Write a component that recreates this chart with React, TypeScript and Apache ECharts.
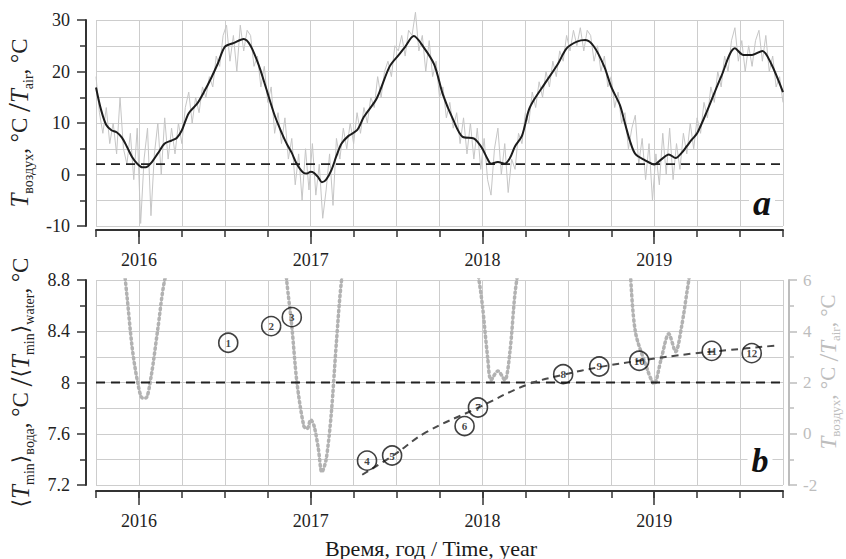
import React, { useEffect, useRef } from "react";
import * as echarts from "echarts";

const FONT = "Liberation Serif";

const X_MIN = 2015.75;
const X_MAX = 2019.75;
const YEAR_TICKS = [2016, 2017, 2018, 2019];

// daily-ish air temperature (sampled every 0.02 year from 2015.75)
const RAW_START = 2015.75;
const RAW_STEP = 0.02;
const AIR_RAW = [
  19, 12, 8, 13, 6, 10, 4, 15, 5, 2, 8, -1, 9,
  -9.5, 3, 9, -8, 4, 10, 0, 11, 3, 9, 4, 10, 6, 13, 16, 10, 15, 12, 17, 15, 19, 17, 23, 21, 27, 29, 22, 27, 20, 29, 24, 28, 27, 21, 23, 17, 21, 14, 17, 8, 12, 6, 11, 3, 7, -2, 4, -5, 5, -3,
  6, -4, 2, -8.5, -3, 4, -6, 7, 3, 9, 5, 10, 6, 12, 8, 13, 10, 15, 13, 19, 15, 20, 22, 19, 25, 24, 27, 23, 28, 27, 31.5, 24, 27, 20, 26, 19, 22, 15, 17, 11, 14, 9, 12, 6, 11, 4, 10, 3, 9, 1,
  7, -1, -4, 5, 9, 0, 6, -3.5, 3, 1, 8, 6, 12, 10, 16, 13, 18, 15, 20, 17, 22, 19, 24, 22, 27, 24, 28, 25, 28.5, 24, 28, 27, 22, 25, 20, 23, 17, 19, 13, 16, 10, 12, 5, 9, 11.5, 2, 7, -1, 6, -5,
  4, -2, 8, 0, 9, -1, 6, 1, 8, 4, 10, 5, 11, 8, 14, 11, 17, 14, 20, 17, 23, 20, 26, 28.5, 22, 26, 20, 25, 21, 26, 28, 22, 27, 20, 23, 17, 19, 14,
];

// smoothed air temperature
const SMOOTH_YEARS = [
  2015.75, 2015.78, 2015.81, 2015.84, 2015.87, 2015.9, 2015.93, 2015.96, 2015.99, 2016.02, 2016.04, 2016.07, 2016.11, 2016.15,
  2016.19, 2016.22, 2016.25, 2016.29, 2016.34, 2016.38, 2016.42, 2016.46, 2016.5, 2016.55, 2016.61, 2016.65, 2016.7, 2016.74,
  2016.79, 2016.83, 2016.86, 2016.89, 2016.92, 2016.96, 2016.98, 2017.0, 2017.02, 2017.045, 2017.065, 2017.09, 2017.12, 2017.15,
  2017.18, 2017.22, 2017.27, 2017.31, 2017.385, 2017.46, 2017.52, 2017.55, 2017.6, 2017.66, 2017.72, 2017.77, 2017.83, 2017.885,
  2017.95, 2017.975, 2018.0, 2018.03, 2018.05, 2018.09, 2018.13, 2018.16, 2018.19, 2018.23, 2018.27, 2018.3, 2018.36, 2018.44,
  2018.49, 2018.55, 2018.6, 2018.65, 2018.71, 2018.75, 2018.8, 2018.83, 2018.86, 2018.89, 2018.945, 2019.0, 2019.04, 2019.085,
  2019.125, 2019.16, 2019.19, 2019.22, 2019.25, 2019.31, 2019.39, 2019.47, 2019.52, 2019.57, 2019.63, 2019.68, 2019.75,
];
const SMOOTH_TEMPS = [
  16.9, 12.5, 9.6, 8.6, 8.2, 7.2, 5.4, 3.4, 2.1, 1.4, 1.4, 2.2, 4.1, 6.0,
  6.6, 7.1, 8.6, 11.9, 13.8, 16.1, 18.7, 21.6, 24.8, 25.5, 26.3, 25.0, 21.0, 16.8,
  11.5, 8.2, 6.0, 4.2, 2.0, 0.3, 0.2, 0.55, 0.3, -0.6, -1.5, -1.0, 0.8, 3.6,
  6.0, 7.5, 8.6, 11.2, 14.8, 21.0, 23.5, 24.8, 26.9, 24.6, 21.3, 15.5, 10.6, 7.3,
  7.0, 6.2, 5.0, 3.0, 2.1, 2.45, 2.1, 3.2, 5.5, 7.5, 12.5, 14.5, 17.5, 21.5,
  24.5, 25.8, 26.1, 24.8, 20.9, 17.0, 13.5, 9.9, 6.4, 4.0, 2.8, 1.95, 2.9, 3.9,
  3.2, 4.2, 5.5, 6.8, 8.0, 12.5, 19.0, 24.5, 23.2, 23.2, 24.0, 21.6, 16.0,
];

const AIR_LIMIT = 2;
const WATER_LIMIT = 8;

// mean minimum water temperature, numbered measurements
const WATER_YEARS = [2016.52, 2016.77, 2016.89, 2017.328, 2017.474, 2017.896, 2017.974, 2018.47, 2018.68, 2018.913, 2019.335, 2019.568];
const WATER_VALUES = [8.31, 8.44, 8.51, 7.39, 7.43, 7.66, 7.805, 8.065, 8.125, 8.17, 8.247, 8.229];
const WATER_LABELS = ["1", "2", "3", "4", "5", "6", "7", "8", "9", "10", "11", "12"];

// fitted trend
const FIT_YEARS = [2017.3, 2017.48, 2017.67, 2017.97, 2018.255, 2018.47, 2018.68, 2018.91, 2019.22, 2019.45, 2019.72];
const FIT_VALUES = [7.28, 7.43, 7.61, 7.8, 7.98, 8.06, 8.12, 8.17, 8.225, 8.255, 8.29];

const AXIS_COLOR = "#333";
const GRID_COLOR = "#cdcdcd";
const RIGHT_COLOR = "#bdbdbd";

function quarterAxis(gridIndex: number, offset: number) {
  return {
    type: "value",
    gridIndex,
    position: "bottom",
    min: X_MIN,
    max: X_MAX,
    interval: 0.25,
    offset,
    axisLine: { show: true, onZero: false, lineStyle: { color: AXIS_COLOR, width: 2 } },
    axisTick: { show: true, length: 7, lineStyle: { color: AXIS_COLOR, width: 1.5 } },
    axisLabel: { show: false },
    splitLine: { show: true, lineStyle: { color: GRID_COLOR, width: 1 } },
  };
}

function yearAxis(gridIndex: number, offset: number, margin: number) {
  return {
    type: "value",
    gridIndex,
    position: "bottom",
    min: X_MIN,
    max: X_MAX,
    offset,
    axisLine: { show: false, onZero: false },
    axisTick: { show: true, customValues: YEAR_TICKS, length: 14, lineStyle: { color: AXIS_COLOR, width: 1.5 } },
    axisLabel: {
      show: true,
      customValues: YEAR_TICKS,
      formatter: (v: number) => String(Math.round(v)),
      fontFamily: FONT,
      fontSize: 18,
      color: "#222",
      margin,
    },
    splitLine: { show: false },
  };
}

const leftTitleRich = {
  i: { fontFamily: FONT, fontStyle: "italic", fontSize: 25, color: "#222" },
  s: { fontFamily: FONT, fontSize: 14, color: "#222", verticalAlign: "bottom" },
  n: { fontFamily: FONT, fontSize: 23, color: "#222" },
  sl: { fontFamily: FONT, fontSize: 32, color: "#222" },
  b: { fontFamily: "DejaVu Serif", fontSize: 22, color: "#222" },
};

const rightTitleRich = {
  i: { fontFamily: FONT, fontStyle: "italic", fontSize: 23, fill: RIGHT_COLOR },
  s: { fontFamily: FONT, fontSize: 13, fill: RIGHT_COLOR, verticalAlign: "bottom" },
  n: { fontFamily: FONT, fontSize: 21, fill: RIGHT_COLOR },
  sl: { fontFamily: FONT, fontSize: 28, fill: RIGHT_COLOR },
};

export default function App() {
  const ref = useRef<HTMLDivElement>(null);

  useEffect(() => {
    if (!ref.current) return;
    const chart = echarts.init(ref.current, undefined, { renderer: "svg" });

    const smooth = SMOOTH_YEARS.map((x, i) => [x, SMOOTH_TEMPS[i]]);
    const raw = AIR_RAW.map((v, i) => [RAW_START + i * RAW_STEP, v]);
    const water = WATER_YEARS.map((x, i) => [x, WATER_VALUES[i], WATER_LABELS[i]]);
    const fit = FIT_YEARS.map((x, i) => [x, FIT_VALUES[i]]);

    chart.setOption({
      animation: false,
      backgroundColor: "#fff",
      textStyle: { fontFamily: FONT },
      grid: [
        { left: 96, top: 20, width: 687, height: 206, containLabel: false, outerBoundsMode: "none" },
        { left: 96, top: 280, width: 687, height: 205, containLabel: false, outerBoundsMode: "none" },
      ],
      xAxis: [quarterAxis(0, 4), yearAxis(0, 4, 21), quarterAxis(1, 6), yearAxis(1, 6, 21)],
      yAxis: [
        {
          type: "value",
          gridIndex: 0,
          position: "left",
          min: -10,
          max: 30,
          interval: 10,
          offset: 10,
          axisLine: { show: true, onZero: false, lineStyle: { color: AXIS_COLOR, width: 2 } },
          axisTick: { show: true, length: 9, lineStyle: { color: AXIS_COLOR, width: 1.5 } },
          minorTick: { show: true, splitNumber: 2, length: 6, lineStyle: { color: AXIS_COLOR, width: 1.5 } },
          splitLine: { show: true, lineStyle: { color: GRID_COLOR, width: 1 } },
          minorSplitLine: { show: true, lineStyle: { color: GRID_COLOR, width: 1 } },
          axisLabel: { fontFamily: FONT, fontSize: 18, color: "#222", margin: 16 },
          name: "{i|T}{s|воздух}{n|, °C }{sl|/}{i|T}{s|air}{n|, °C}",
          nameLocation: "middle",
          nameRotate: 90,
          nameGap: 40,
          nameTextStyle: { rich: leftTitleRich },
        },
        {
          type: "value",
          gridIndex: 1,
          position: "left",
          min: 7.2,
          max: 8.8,
          interval: 0.4,
          offset: 10,
          axisLine: { show: true, onZero: false, lineStyle: { color: AXIS_COLOR, width: 2 } },
          axisTick: { show: true, length: 9, lineStyle: { color: AXIS_COLOR, width: 1.5 } },
          minorTick: { show: true, splitNumber: 2, length: 6, lineStyle: { color: AXIS_COLOR, width: 1.5 } },
          splitLine: { show: true, lineStyle: { color: GRID_COLOR, width: 1 } },
          minorSplitLine: { show: true, lineStyle: { color: GRID_COLOR, width: 1 } },
          axisLabel: {
            fontFamily: FONT,
            fontSize: 18,
            color: "#222",
            margin: 16,
            formatter: (v: number) => String(Math.round(v * 10) / 10),
          },
          name: "{b|⟨}{i|T}{s|min}{b|⟩}{s|вода}{n|, °C }{sl|/}{b|⟨}{i|T}{s|min}{b|⟩}{s|water}{n|, °C}",
          nameLocation: "middle",
          nameRotate: 90,
          nameGap: 40,
          nameTextStyle: { rich: leftTitleRich },
        },
        {
          type: "value",
          gridIndex: 1,
          position: "right",
          min: -2,
          max: 6,
          interval: 2,
          offset: 6,
          axisLine: { show: true, onZero: false, lineStyle: { color: RIGHT_COLOR, width: 2 } },
          axisTick: { show: true, length: 8, lineStyle: { color: RIGHT_COLOR, width: 1.5 } },
          minorTick: { show: true, splitNumber: 2, length: 5, lineStyle: { color: RIGHT_COLOR, width: 1.5 } },
          splitLine: { show: false },
          axisLabel: { fontFamily: FONT, fontSize: 17, color: RIGHT_COLOR, margin: 14 },
        },
      ],
      series: [
        {
          type: "line",
          xAxisIndex: 0,
          yAxisIndex: 0,
          data: raw,
          showSymbol: false,
          clip: false,
          lineStyle: { color: "#c6c6c6", width: 1 },
          z: 2,
        },
        {
          type: "line",
          xAxisIndex: 0,
          yAxisIndex: 0,
          data: [[X_MIN, AIR_LIMIT], [X_MAX, AIR_LIMIT]],
          showSymbol: false,
          lineStyle: { color: "#222", width: 1.8, type: [9, 6] },
          z: 3,
        },
        {
          type: "line",
          xAxisIndex: 0,
          yAxisIndex: 0,
          data: smooth,
          smooth: 0.3,
          showSymbol: false,
          lineStyle: { color: "#1c1c1c", width: 2 },
          z: 4,
        },
        {
          type: "line",
          xAxisIndex: 2,
          yAxisIndex: 2,
          data: smooth,
          smooth: 0.3,
          showSymbol: false,
          clip: true,
          lineStyle: { color: "#b2b2b2", width: 3.5, type: [1.5, 3.5], cap: "round" },
          z: 2,
        },
        {
          type: "line",
          xAxisIndex: 2,
          yAxisIndex: 1,
          data: [[X_MIN, WATER_LIMIT], [X_MAX, WATER_LIMIT]],
          showSymbol: false,
          lineStyle: { color: "#222", width: 1.8, type: [9, 6] },
          z: 3,
        },
        {
          type: "line",
          xAxisIndex: 2,
          yAxisIndex: 1,
          data: fit,
          smooth: 0.4,
          showSymbol: false,
          lineStyle: { color: "#4a4a4a", width: 2, type: [7, 5] },
          z: 3,
        },
        {
          type: "scatter",
          xAxisIndex: 2,
          yAxisIndex: 1,
          data: water,
          symbol: "circle",
          symbolSize: 19,
          itemStyle: { color: "rgba(255,255,255,0)", borderColor: "#111", borderWidth: 1.6 },
          label: {
            show: true,
            position: "inside",
            formatter: (p: any) => p.data[2],
            fontFamily: FONT,
            fontSize: 11,
            fontWeight: "bold",
            color: "#111",
          },
          z: 5,
        },
      ],
      graphic: [
        {
          type: "text",
          x: 762,
          y: 203,
          style: {
            text: "a",
            font: "bold italic 36px Liberation Serif",
            fill: "#111",
            align: "center",
            verticalAlign: "middle",
            backgroundColor: "#fff",
            padding: [0, 4],
          },
          z: 10,
        },
        {
          type: "text",
          x: 760,
          y: 460,
          style: {
            text: "b",
            font: "bold italic 34px Liberation Serif",
            fill: "#111",
            align: "center",
            verticalAlign: "middle",
            backgroundColor: "#fff",
            padding: [0, 4],
          },
          z: 10,
        },
        {
          type: "text",
          x: 828,
          y: 372,
          rotation: Math.PI / 2,
          style: {
            text: "{i|T}{s|воздух}{n|, °C }{sl|/}{i|T}{s|air}{n|, °C}",
            rich: rightTitleRich,
            fill: RIGHT_COLOR,
            align: "center",
            verticalAlign: "middle",
          },
        },
        {
          type: "text",
          x: 431,
          y: 548,
          style: {
            text: "Время, год / Time, year",
            font: "22px Liberation Serif",
            fill: "#1a1a1a",
            align: "center",
            verticalAlign: "middle",
          },
        },
      ],
    });

    return () => chart.dispose();
  }, []);

  return <div ref={ref} style={{ position: "fixed", left: 0, top: 0, width: 846, height: 559 }} />;
}
